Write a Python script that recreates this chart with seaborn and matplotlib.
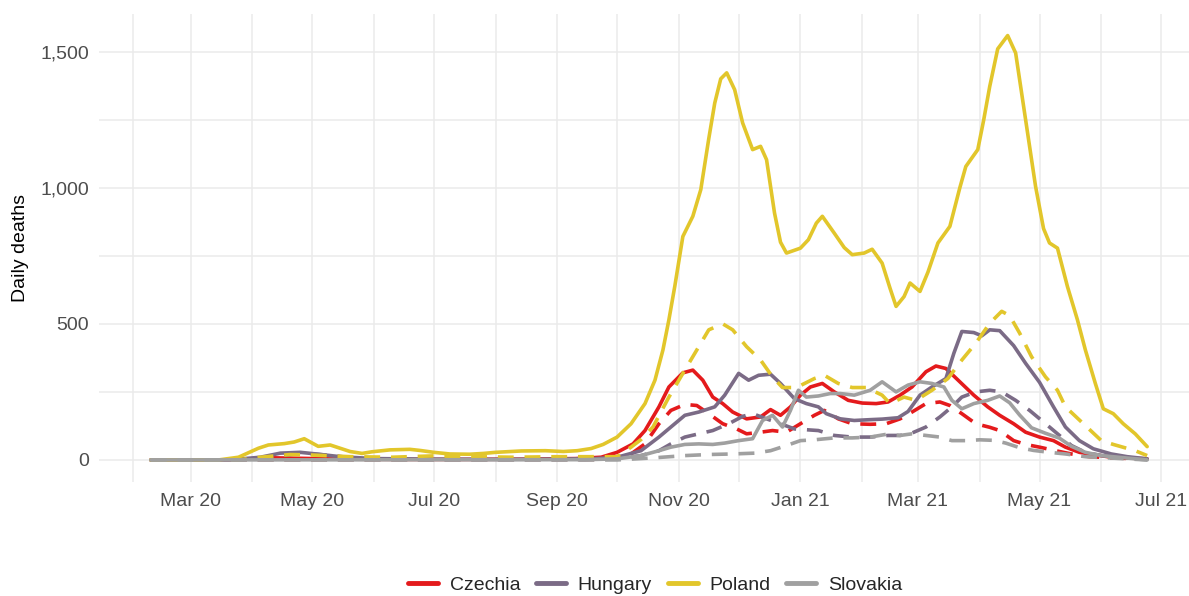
import pandas as pd
import matplotlib.pyplot as plt
import matplotlib.dates as mdates
from matplotlib.ticker import FuncFormatter, MultipleLocator
from matplotlib.lines import Line2D
import seaborn as sns

countries = ["Czechia", "Hungary", "Poland", "Slovakia"]
colors = ["#E41A1C", "#7B6B86", "#E2C62B", "#A0A0A0"]

# solid = reported deaths, dashed = second measure
cz_rep_dates = ["2020-02-10", "2020-03-20", "2020-04-10", "2020-04-25", "2020-05-15", "2020-06-15",
                "2020-07-15", "2020-08-15", "2020-09-10", "2020-09-23", "2020-10-01", "2020-10-09",
                "2020-10-15", "2020-10-22", "2020-10-27", "2020-11-03", "2020-11-08", "2020-11-13",
                "2020-11-18", "2020-11-23", "2020-11-28", "2020-12-05", "2020-12-12", "2020-12-17",
                "2020-12-22", "2020-12-27", "2021-01-01", "2021-01-06", "2021-01-12", "2021-01-18",
                "2021-01-25", "2021-02-01", "2021-02-08", "2021-02-14", "2021-02-20", "2021-02-26",
                "2021-03-05", "2021-03-10", "2021-03-15", "2021-03-22", "2021-03-29", "2021-04-05",
                "2021-04-11", "2021-04-18", "2021-04-24", "2021-05-01", "2021-05-08", "2021-05-14",
                "2021-05-21", "2021-05-28", "2021-06-06", "2021-06-24"]
cz_rep_vals = [0, 0, 8, 6, 3, 2, 2, 3, 5, 10, 28, 59, 108, 195, 268, 320, 330, 293, 231, 207, 176,
               151, 158, 185, 164, 195, 238, 268, 281, 250, 219, 209, 207, 213, 238, 268, 324, 345,
               336, 287, 238, 195, 164, 133, 102, 84, 71, 47, 28, 20, 10, 4]

cz_exc_dates = ["2020-02-10", "2020-09-20", "2020-10-01", "2020-10-08", "2020-10-15", "2020-10-22",
                "2020-10-28", "2020-11-04", "2020-11-10", "2020-11-16", "2020-11-23", "2020-11-30",
                "2020-12-05", "2020-12-12", "2020-12-18", "2020-12-25", "2021-01-01", "2021-01-08",
                "2021-01-13", "2021-01-20", "2021-01-27", "2021-02-05", "2021-02-13", "2021-02-20",
                "2021-02-26", "2021-03-05", "2021-03-12", "2021-03-17", "2021-03-23", "2021-03-30",
                "2021-04-06", "2021-04-11", "2021-04-18", "2021-04-24", "2021-05-01", "2021-05-09",
                "2021-05-17", "2021-05-26", "2021-06-05", "2021-06-24"]
cz_exc_vals = [0, 2, 10, 22, 59, 133, 182, 204, 200, 170, 133, 114, 96, 102, 108, 102, 133, 164,
               182, 151, 133, 131, 133, 151, 176, 207, 213, 200, 170, 133, 120, 108, 71, 57, 47, 34,
               22, 12, 8, 3]

hu_rep_dates = ["2020-02-10", "2020-03-20", "2020-04-05", "2020-04-15", "2020-04-25", "2020-05-03",
                "2020-05-15", "2020-06-01", "2020-07-01", "2020-08-01", "2020-09-01", "2020-09-20",
                "2020-10-01", "2020-10-13", "2020-10-22", "2020-10-28", "2020-11-04", "2020-11-11",
                "2020-11-19", "2020-11-24", "2020-12-01", "2020-12-06", "2020-12-11", "2020-12-17",
                "2020-12-22", "2020-12-29", "2021-01-04", "2021-01-10", "2021-01-14", "2021-01-21",
                "2021-01-28", "2021-02-05", "2021-02-11", "2021-02-19", "2021-02-24", "2021-03-02",
                "2021-03-08", "2021-03-15", "2021-03-19", "2021-03-23", "2021-03-29", "2021-04-02",
                "2021-04-06", "2021-04-11", "2021-04-18", "2021-04-24", "2021-05-01", "2021-05-08",
                "2021-05-14", "2021-05-21", "2021-05-28", "2021-06-06", "2021-06-14", "2021-06-24"]
hu_rep_vals = [0, 0, 10, 25, 28, 22, 12, 5, 3, 2, 3, 5, 10, 34, 84, 121, 164, 176, 195, 238, 318,
               293, 311, 315, 281, 225, 207, 195, 170, 151, 145, 148, 150, 155, 178, 238, 268, 299,
               392, 472, 468, 456, 478, 475, 420, 355, 285, 195, 121, 71, 41, 22, 12, 4]

hu_exc_dates = ["2020-02-10", "2020-03-25", "2020-04-10", "2020-04-25", "2020-05-08", "2020-05-25",
                "2020-06-15", "2020-09-15", "2020-10-01", "2020-10-13", "2020-10-22", "2020-10-28",
                "2020-11-04", "2020-11-11", "2020-11-18", "2020-11-26", "2020-12-03", "2020-12-08",
                "2020-12-15", "2020-12-22", "2020-12-29", "2021-01-04", "2021-01-10", "2021-01-18",
                "2021-01-27", "2021-02-05", "2021-02-14", "2021-02-20", "2021-02-26", "2021-03-05",
                "2021-03-12", "2021-03-18", "2021-03-23", "2021-03-30", "2021-04-06", "2021-04-12",
                "2021-04-19", "2021-04-26", "2021-05-05", "2021-05-11", "2021-05-17", "2021-05-24",
                "2021-06-01", "2021-06-24"]
hu_exc_vals = [0, 0, 10, 25, 18, 5, 2, 2, 5, 16, 34, 59, 84, 96, 108, 133, 160, 170, 151, 133, 114,
               111, 108, 90, 84, 84, 90, 90, 99, 121, 158, 195, 231, 250, 256, 250, 219, 182, 127,
               90, 53, 28, 16, 3]

pl_rep_dates = ["2020-02-10", "2020-03-15", "2020-03-25", "2020-04-04", "2020-04-09", "2020-04-17",
                "2020-04-22", "2020-04-27", "2020-05-01", "2020-05-04", "2020-05-10", "2020-05-15",
                "2020-05-20", "2020-05-26", "2020-05-31", "2020-06-09", "2020-06-19", "2020-06-24",
                "2020-07-01", "2020-07-09", "2020-07-19", "2020-07-26", "2020-08-01", "2020-08-14",
                "2020-08-26", "2020-09-04", "2020-09-11", "2020-09-18", "2020-09-24", "2020-10-01",
                "2020-10-08", "2020-10-15", "2020-10-20", "2020-10-24", "2020-10-27", "2020-10-30",
                "2020-11-03", "2020-11-08", "2020-11-12", "2020-11-16", "2020-11-19", "2020-11-22",
                "2020-11-25", "2020-11-29", "2020-12-03", "2020-12-08", "2020-12-12", "2020-12-15",
                "2020-12-19", "2020-12-22", "2020-12-25", "2021-01-01", "2021-01-05", "2021-01-09",
                "2021-01-12", "2021-01-18", "2021-01-23", "2021-01-27", "2021-02-02", "2021-02-06",
                "2021-02-11", "2021-02-15", "2021-02-18", "2021-02-22", "2021-02-25", "2021-03-02",
                "2021-03-06", "2021-03-11", "2021-03-17", "2021-03-22", "2021-03-25", "2021-03-31",
                "2021-04-03", "2021-04-06", "2021-04-10", "2021-04-15", "2021-04-19", "2021-04-24",
                "2021-04-29", "2021-05-03", "2021-05-06", "2021-05-10", "2021-05-15", "2021-05-20",
                "2021-05-24", "2021-05-29", "2021-06-02", "2021-06-07", "2021-06-12", "2021-06-18",
                "2021-06-24"]
pl_rep_vals = [0, 0, 10, 43, 55, 60, 66, 78, 62, 50, 55, 43, 31, 24, 30, 37, 39, 35, 28, 22, 21, 24,
               28, 33, 34, 31, 34, 42, 57, 84, 133, 207, 293, 404, 515, 640, 821, 895, 993, 1180,
               1311, 1400, 1422, 1360, 1238, 1140, 1152, 1103, 907, 800, 760, 778, 809, 870, 895,
               833, 780, 754, 760, 774, 723, 630, 564, 600, 650, 619, 690, 797, 858, 1000, 1078,
               1140, 1250, 1372, 1510, 1559, 1495, 1250, 1005, 850, 797, 778, 637, 515, 404, 281,
               188, 170, 133, 96, 49]

pl_exc_dates = ["2020-02-10", "2020-03-25", "2020-04-05", "2020-04-20", "2020-05-01", "2020-05-20",
                "2020-06-10", "2020-07-01", "2020-07-20", "2020-08-10", "2020-09-01", "2020-09-20",
                "2020-10-01", "2020-10-08", "2020-10-13", "2020-10-19", "2020-10-27", "2020-11-03",
                "2020-11-10", "2020-11-16", "2020-11-23", "2020-11-28", "2020-12-05", "2020-12-12",
                "2020-12-18", "2020-12-23", "2020-12-30", "2021-01-08", "2021-01-13", "2021-01-20",
                "2021-01-27", "2021-02-03", "2021-02-11", "2021-02-15", "2021-02-22", "2021-02-28",
                "2021-03-08", "2021-03-16", "2021-03-23", "2021-03-30", "2021-04-06", "2021-04-12",
                "2021-04-16", "2021-04-21", "2021-04-27", "2021-05-04", "2021-05-10", "2021-05-14",
                "2021-05-23", "2021-06-01", "2021-06-07", "2021-06-18", "2021-06-24"]
pl_exc_vals = [0, 0, 10, 20, 18, 12, 10, 15, 12, 10, 12, 12, 12, 47, 75, 121, 231, 318, 404, 478,
               500, 478, 416, 367, 305, 266, 266, 299, 311, 281, 266, 266, 238, 207, 231, 219, 256,
               299, 367, 429, 502, 546, 530, 466, 379, 305, 256, 195, 133, 71, 57, 34, 16]

sk_rep_dates = ["2020-02-10", "2020-09-15", "2020-10-01", "2020-10-13", "2020-10-22", "2020-10-28",
                "2020-11-04", "2020-11-11", "2020-11-18", "2020-11-24", "2020-12-01", "2020-12-08",
                "2020-12-13", "2020-12-18", "2020-12-23", "2020-12-27", "2020-12-31", "2021-01-04",
                "2021-01-10", "2021-01-16", "2021-01-21", "2021-01-28", "2021-02-05", "2021-02-11",
                "2021-02-18", "2021-02-24", "2021-03-02", "2021-03-08", "2021-03-14", "2021-03-18",
                "2021-03-23", "2021-03-29", "2021-04-05", "2021-04-11", "2021-04-16", "2021-04-21",
                "2021-04-27", "2021-05-04", "2021-05-11", "2021-05-17", "2021-05-24", "2021-06-01",
                "2021-06-24"]
sk_rep_vals = [0, 1, 4, 16, 34, 47, 57, 59, 57, 62, 71, 78, 145, 164, 121, 182, 256, 231, 235, 244,
               244, 238, 256, 287, 250, 275, 287, 281, 268, 219, 188, 207, 219, 235, 210, 165, 118,
               98, 80, 50, 28, 16, 0]

sk_exc_dates = ["2020-02-10", "2020-10-01", "2020-10-20", "2020-11-04", "2020-11-16", "2020-11-28",
                "2020-12-09", "2020-12-17", "2020-12-25", "2021-01-01", "2021-01-08", "2021-01-18",
                "2021-01-27", "2021-02-05", "2021-02-13", "2021-02-20", "2021-02-26", "2021-03-05",
                "2021-03-12", "2021-03-18", "2021-03-25", "2021-04-01", "2021-04-08", "2021-04-14",
                "2021-04-21", "2021-04-28", "2021-05-06", "2021-05-14", "2021-05-24", "2021-06-24"]
sk_exc_vals = [0, 0, 8, 16, 20, 22, 25, 34, 53, 71, 74, 81, 81, 84, 94, 90, 96, 90, 84, 71, 71, 74,
               72, 62, 45, 35, 28, 22, 12, 0]


def frame(country, measure, dates, vals):
    return pd.DataFrame({"date": pd.to_datetime(dates), "deaths": vals,
                         "country": country, "measure": measure})


df = pd.concat([
    frame("Czechia", "reported", cz_rep_dates, cz_rep_vals),
    frame("Czechia", "excess", cz_exc_dates, cz_exc_vals),
    frame("Hungary", "reported", hu_rep_dates, hu_rep_vals),
    frame("Hungary", "excess", hu_exc_dates, hu_exc_vals),
    frame("Poland", "reported", pl_rep_dates, pl_rep_vals),
    frame("Poland", "excess", pl_exc_dates, pl_exc_vals),
    frame("Slovakia", "reported", sk_rep_dates, sk_rep_vals),
    frame("Slovakia", "excess", sk_exc_dates, sk_exc_vals),
], ignore_index=True)

sns.set_theme(style="whitegrid")
plt.rcParams['font.family'] = ['Liberation Sans', 'DejaVu Sans']
plt.rcParams['lines.solid_joinstyle'] = 'round'
plt.rcParams['lines.dash_joinstyle'] = 'round'

fig = plt.figure(figsize=(11.89, 5.96), dpi=100)
ax = fig.add_axes([99 / 1189, 1 - 482 / 596, 1 - 99 / 1189, (482 - 13.5) / 596])

sns.lineplot(data=df, x="date", y="deaths", hue="country", style="measure",
             hue_order=countries, palette=colors, style_order=["reported", "excess"],
             dashes={"reported": "", "excess": (4.4, 3.0)}, linewidth=2.6,
             estimator=None, sort=True, legend=False, ax=ax)

ax.set_xlim(pd.Timestamp("2020-01-15"), pd.Timestamp("2021-07-15"))
ax.set_ylim(-81, 1640)

ax.xaxis.set_major_locator(mdates.MonthLocator(bymonth=[1, 3, 5, 7, 9, 11]))
ax.xaxis.set_minor_locator(mdates.MonthLocator(bymonth=[2, 4, 6, 8, 10, 12]))
ax.xaxis.set_major_formatter(mdates.DateFormatter("%b %y"))
ax.yaxis.set_major_locator(MultipleLocator(500))
ax.yaxis.set_minor_locator(MultipleLocator(250))
ax.yaxis.set_major_formatter(FuncFormatter(lambda v, p: f"{int(v):,}"))

ax.grid(which="both", color="#EBEBEB", linewidth=1.1)
for s in ax.spines.values():
    s.set_visible(False)
ax.tick_params(which="both", length=0, labelsize=14, labelcolor="#4D4D4D")
ax.tick_params(axis="x", pad=8)
ax.tick_params(axis="y", pad=7)
ax.set_xlabel("")
ax.set_ylabel("Daily deaths", fontsize=14, color="black", labelpad=8)

handles = [Line2D([0], [0], color=c, lw=3.5) for c in colors]
fig.legend(handles, countries, loc="center", bbox_to_anchor=(655 / 1189, 1 - 585 / 596),
           ncol=4, frameon=False, fontsize=14, handlelength=1.55, handletextpad=0.6,
           columnspacing=0.8)

fig.savefig("out.png", dpi=100)
